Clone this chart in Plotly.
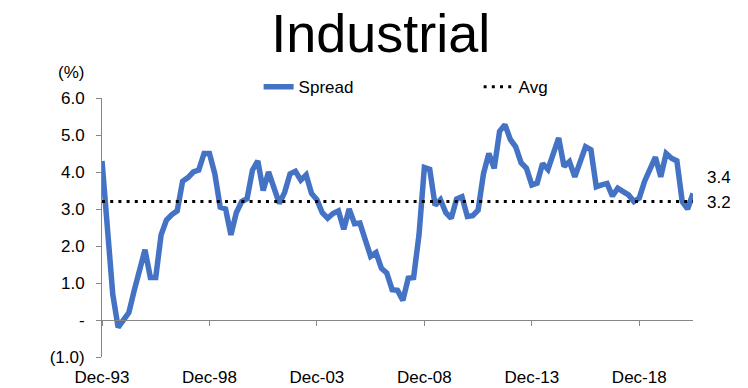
import pandas as pd
import plotly.graph_objects as go

# ---- data (quarterly, Dec-93 .. Jun-21) ----
spread = [
    4.30, 2.40, 0.70, -0.20, 0.00, 0.20, 0.80, 1.40, 1.90, 1.15,
    1.15, 2.30, 2.70, 2.85, 2.95, 3.75, 3.85, 4.00, 4.05, 4.50,
    4.50, 3.95, 3.05, 3.00, 2.30, 2.90, 3.20, 3.28, 4.05, 4.30,
    3.50, 4.00, 3.55, 3.15, 3.45, 3.95, 4.02, 3.78, 3.92, 3.42,
    3.25, 2.90, 2.75, 2.88, 2.95, 2.45, 3.00, 2.60, 2.62, 2.20,
    1.72, 1.82, 1.40, 1.27, 0.82, 0.80, 0.53, 1.13, 1.15, 2.30,
    4.12, 4.07, 3.10, 3.25, 2.90, 2.75, 3.27, 3.33, 2.80, 2.82,
    2.97, 3.95, 4.50, 4.10, 5.10, 5.28, 4.88, 4.68, 4.25, 4.10,
    3.65, 3.70, 4.23, 4.07, 4.50, 4.92, 4.15, 4.28, 3.87, 4.30,
    4.68, 4.60, 3.60, 3.65, 3.69, 3.35, 3.56, 3.47, 3.38, 3.20,
    3.30, 3.75, 4.10, 4.40, 3.87, 4.50, 4.37, 4.30, 3.20, 3.00,
    3.42,
]
avg_value = 3.2
avg = [avg_value] * len(spread)

quarters = list(pd.date_range(start="1993-12-01", periods=len(spread), freq="3MS").strftime("%b-%y"))
x_ticks = quarters[::20]

y_tickvals = [-1, 0, 1, 2, 3, 4, 5, 6]
y_ticktext = ["(1.0)", "-", "1.0", "2.0", "3.0", "4.0", "5.0", "6.0"]

FONT = "Liberation Sans, Arial, sans-serif"
BLUE = "#4472C4"
GRAY = "#868686"

fig = go.Figure()
fig.add_trace(go.Scatter(
    x=quarters, y=spread, name="Spread", mode="lines",
    line=dict(color=BLUE, width=5.5), xaxis="x", yaxis="y",
))
fig.add_trace(go.Scatter(
    x=quarters, y=avg, name="Avg", mode="lines",
    line=dict(color="black", width=3, dash="3px,5.2px"), xaxis="x2", yaxis="y",
))

# end labels
fig.add_annotation(x=quarters[-1], y=spread[-1], text=f"{spread[-1]:.1f}",
                   xref="x", yref="y", xanchor="left", yanchor="middle",
                   showarrow=False, xshift=12, yshift=16,
                   font=dict(family=FONT, size=17, color="black"))
fig.add_annotation(x=quarters[-1], y=avg_value, text=f"{avg_value:.1f}",
                   xref="x", yref="y", xanchor="left", yanchor="middle",
                   showarrow=False, xshift=12, yshift=-1,
                   font=dict(family=FONT, size=17, color="black"))
fig.add_annotation(x=-0.027, y=1.10, xref="paper", yref="paper", text="(%)",
                   xanchor="right", yanchor="middle", showarrow=False,
                   font=dict(family=FONT, size=17, color="black"))

n = len(spread)
fig.update_layout(
    width=748, height=388,
    margin=dict(l=102, r=55, t=98, b=31, autoexpand=False),
    paper_bgcolor="white", plot_bgcolor="white",
    font=dict(family=FONT, size=17, color="black"),
    title=dict(text="Industrial", x=0.509, xref="container", xanchor="center",
               y=0.9644, yref="container", yanchor="top",
               font=dict(family=FONT, size=54, color="black")),
    showlegend=True,
    legend=dict(orientation="h", x=0.265, xanchor="left", y=0.972, yanchor="bottom",
                entrywidth=175, entrywidthmode="pixels",
                font=dict(family=FONT, size=17, color="black"),
                bgcolor="rgba(0,0,0,0)"),
    xaxis=dict(type="category", range=[0, n - 1], showline=False, showgrid=False,
               zeroline=False, ticks="", tickmode="array", tickvals=x_ticks,
               ticktext=x_ticks, ticklabelstandoff=8, automargin=False,
               tickfont=dict(family=FONT, size=17, color="black")),
    xaxis2=dict(type="category", matches="x", overlaying="x", anchor="free",
                position=1 / 7, side="bottom", showline=True, linecolor=GRAY,
                linewidth=1, showgrid=False, zeroline=False, ticks="outside",
                ticklen=5, tickcolor=GRAY, tickwidth=1, tickmode="array",
                tickvals=x_ticks, showticklabels=False, automargin=False),
    yaxis=dict(range=[-1, 6], showline=True, linecolor=GRAY, linewidth=1,
               showgrid=False, zeroline=False, ticks="outside", ticklen=5,
               tickcolor=GRAY, tickwidth=1, tickmode="array",
               tickvals=y_tickvals, ticktext=y_ticktext, ticklabelstandoff=8,
               automargin=False,
               tickfont=dict(family=FONT, size=17, color="black")),
)

fig.write_html("out.html")
